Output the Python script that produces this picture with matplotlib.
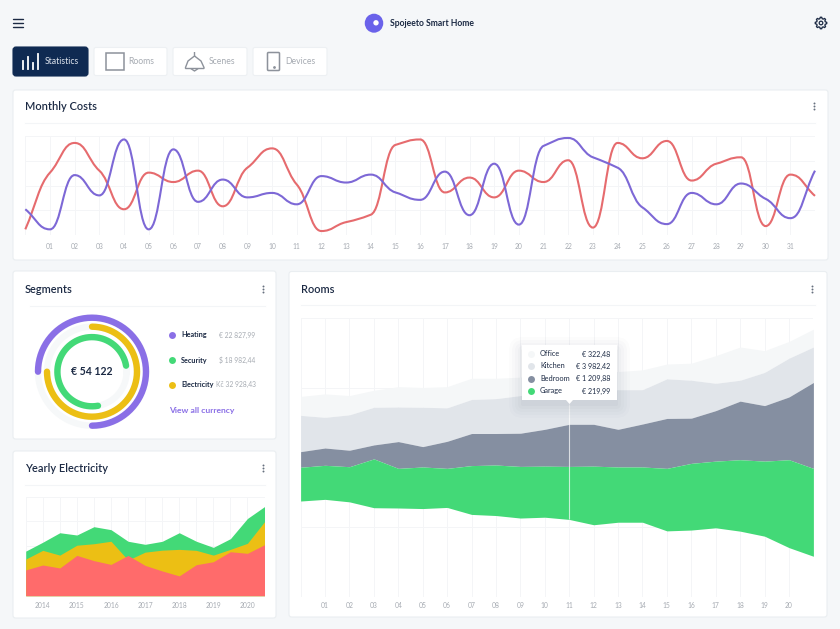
import numpy as np
import matplotlib
matplotlib.use("Agg")
import matplotlib.pyplot as plt
from matplotlib.patches import FancyBboxPatch, Rectangle, Circle, Polygon, PathPatch, Ellipse
from matplotlib.path import Path

plt.rcParams['font.family'] = ['Lato', 'DejaVu Sans']

W, H = 840, 629
days = [f"{i:02d}" for i in range(1, 32)]
heating_costs = [5.7, 63, 93, 65, 26, 63, 53.5, 65, 29, 68, 87.5, 51, 4, 13, 20.5, 91, 96.5, 43, 58, 38, 65, 53.5, 75.5, 7.5, 93, 77.5, 95, 55, 72, 78.5, 9, 61, 39.5]
power_costs = [26, 5.7, 60.5, 40, 96.5, 5.7, 86.5, 33.5, 56, 38, 42.5, 31, 59.5, 53, 61, 43, 35.5, 64, 20, 72, 10.5, 90, 98, 78.5, 68, 28, 11, 42.5, 31, 52, 36.5, 17, 65]

years = ["2014", "2015", "2016", "2017", "2018", "2019", "2020"]
elec_red = [26, 31, 28, 40.7, 35.4, 31.6, 40.7, 30.6, 25, 20, 31.3, 34.3, 44.4, 42.8, 51.5]
elec_yellow = [37, 45.8, 41, 51, 52.5, 55, 36, 44, 46, 46.8, 45.8, 41, 46.8, 52.9, 74.7]
elec_green = [45, 54, 63.6, 61.3, 69.7, 66.7, 55, 51.9, 54.9, 63.6, 55, 48.8, 57.6, 78, 90]

room_ticks = [f"{i:02d}" for i in range(1, 21)]
room_base = [34.4, 35, 34.1, 32, 31.9, 31.7, 32.1, 29.6, 29.2, 28.3, 28.6, 27.8, 25.9, 26.8, 26.8, 23.7, 24, 24.8, 23.6, 21.8, 17.7, 14.6]
room_garage = [46.5, 47.2, 46.7, 49.5, 46.1, 46.6, 46.1, 47.1, 47.3, 46.8, 46.9, 46.8, 46.9, 46.6, 46.6, 46.1, 47.9, 48.7, 49.2, 48.7, 49.2, 46.1]
room_bedroom = [52.1, 53.4, 52.6, 54.5, 55.7, 53.9, 55.8, 58.6, 58.6, 58.7, 60.1, 61.9, 61.9, 60.1, 62, 64, 64.1, 66.8, 70.2, 68.6, 71.7, 76.9]
room_kitchen = [65.1, 64.4, 65.3, 68, 68.1, 68, 67.8, 70.8, 71.1, 72.2, 72.8, 73.7, 74, 74.3, 74.3, 78.2, 77.7, 76.6, 77.7, 80.5, 85.6, 89.6]
room_office = [71.9, 72.8, 72.2, 74.1, 75.4, 75.1, 75.4, 78.4, 78.4, 78.8, 79.3, 80, 80.5, 80.8, 81.4, 83.5, 83.8, 86.5, 89.6, 88.3, 91.6, 96]

segment_names = ["Heating", "Security", "Electricity"]
segment_values = ["€ 22 827,99", "$ 18 982,44", "Kč 32 928,43"]
segment_share = [75, 75, 75]
tooltip_names = ["Office", "Kitchen", "Bedroom", "Garage"]
tooltip_values = ["€ 322,48", "€ 3 982,42", "€ 1 209,88", "€ 219,99"]

BG = "#f5f7f9"; NAVY = "#0f2a52"; INK = "#1c2a44"; GREY = "#a6abb2"; GRID = "#f4f5f7"; EDGE = "#eaeef1"
PURPLE = "#8a6fe6"; LINE_PURPLE = "#7d68d6"; LINE_RED = "#e66b6e"; GREEN = "#43d977"; YELLOW = "#ecbf14"; RED = "#ff6b6b"
SLATE = "#858fa1"; LIGHT = "#e1e5ea"; LIGHTEST = "#f5f7f8"

fig = plt.figure(figsize=(W / 100, H / 100), dpi=100, facecolor=BG)
ui = fig.add_axes([0, 0, 1, 1], zorder=0)
ui.set_xlim(0, W); ui.set_ylim(H, 0); ui.axis("off")


def sub(x0, y0, x1, y1, **kw):
    a = fig.add_axes([x0 / W, 1 - y1 / H, (x1 - x0) / W, (y1 - y0) / H], **kw)
    a.patch.set_alpha(0)
    return a


def card(ax, x0, y0, x1, y1, fc="white", ec=EDGE, r=2.5, z=1):
    ax.add_patch(FancyBboxPatch((x0 + r, y0 + r), x1 - x0 - 2 * r, y1 - y0 - 2 * r,
                                boxstyle=f"round,pad={r},rounding_size={r}", fc=fc, ec=ec, lw=0.8, zorder=z))


def kebab(x, y):
    ui.plot([x, x, x], [y - 3, y, y + 3], ls="", marker="o", ms=1.4, mew=0, color="#66707f", zorder=5)


for x0, y0, x1, y1 in [(13, 90, 828, 260), (13, 271, 276, 439), (13, 451, 276, 618), (289, 271.5, 827, 617)]:
    card(ui, x0, y0, x1, y1)

for (x0, x1, y, t, ty, kx, ky) in [(25, 815, 123, "Monthly Costs", 107, 813.6, 106), (30, 265, 305.6, "Segments", 289.5, 263, 289),
                                   (25, 265, 485, "Yearly Electricity", 468.5, 263, 468), (301, 815, 305, "Rooms", 289.5, 812.4, 289)]:
    ui.plot([x0, x1], [y, y], color="#f3f5f7", lw=0.8, zorder=2)
    ui.text(25 if x0 < 289 else 301, ty, t, fontsize=7.9, color=INK, va="center", ha="left", fontweight="semibold", zorder=5)
    kebab(kx, ky)

# header
for y in (19, 23, 27.3):
    ui.plot([13, 23], [y, y], color=INK, lw=1.0, zorder=5, solid_capstyle="round")
ui.add_patch(Ellipse((374, 23.2), 18.5, 19, fc="#6a62ea", ec="none", zorder=5))
ui.add_patch(Circle((376, 22.8), 2.7, fc="white", ec="none", zorder=6))
ui.text(389.5, 23, "Spojeeto Smart Home", fontsize=6.2, fontweight="bold", color=INK, va="center", zorder=5)
ang = np.linspace(0, 2 * np.pi, 49)
rad = 5.1 + 0.7 * np.sign(np.cos(ang * 8 - 0.1))
ui.add_patch(Polygon(np.c_[821 + rad * np.cos(ang), 23 + rad * np.sin(ang)], closed=True, fc="none", ec=INK, lw=0.9, joinstyle="round", zorder=5))
ui.add_patch(Circle((821, 23), 1.8, fc="none", ec=INK, lw=0.9, zorder=5))

# tabs
card(ui, 13, 47, 88, 76, fc=NAVY, ec=NAVY, r=3)
for x0, x1 in [(94, 167), (173, 247), (253, 327)]:
    card(ui, x0, 47.5, x1, 75.5, fc="white", ec="#edf0f3", r=2)
for x, top in zip((22.7, 28, 33, 38.3), (60.7, 57, 62.7, 54)):
    ui.plot([x, x], [69.3, top], color="white", lw=1.3, zorder=5)
ui.text(45, 61.5, "Statistics", fontsize=6.2, color="#dfe5ee", va="center", zorder=5)
ICON = "#8d929b"
ui.add_patch(Rectangle((106, 53), 17.5, 17, fc="none", ec=ICON, lw=1.1, zorder=5))
ui.text(128.5, 61.5, "Rooms", fontsize=6.2, color=GREY, va="center", zorder=5)
bell = Path([(194.5, 52), (194.5, 56), (188, 61), (185.5, 67.5), (185.5, 68.5), (204, 68.5), (204, 67.5), (201, 61), (194.5, 56)],
            [Path.MOVETO, Path.LINETO, Path.LINETO, Path.LINETO, Path.LINETO, Path.LINETO, Path.LINETO, Path.LINETO, Path.LINETO])
ui.add_patch(PathPatch(bell, fc="none", ec=ICON, lw=1, zorder=5))
ui.plot([191.5, 194.5, 197.5], [69, 71, 69], color=ICON, lw=1, zorder=5)
ui.text(209, 61, "Scenes", fontsize=6.2, color=GREY, va="center", zorder=5)
ui.add_patch(FancyBboxPatch((268, 53), 11, 17, boxstyle="round,pad=0.5,rounding_size=1", fc="none", ec=ICON, lw=1.1, zorder=5))
ui.plot([273.5], [67], marker="o", ms=1, color=ICON, zorder=5)
ui.text(285, 61, "Devices", fontsize=6.2, color=GREY, va="center", zorder=5)


def style(a, xt, labels, pad):
    for s in a.spines.values():
        s.set_visible(False)
    a.set_xticks(xt)
    a.set_xticklabels(labels, fontsize=4.9, color=GREY)
    a.tick_params(axis="x", length=0, pad=pad)
    a.tick_params(axis="y", length=0, labelleft=False)
    a.set_axisbelow(True)
    a.grid(True, color=GRID, lw=0.7)


def smooth(xs, ys):
    xs = np.asarray(xs, float); ys = np.asarray(ys, float)
    sl = np.diff(ys) / np.diff(xs)
    m = np.zeros_like(ys)
    for i in range(1, len(ys) - 1):
        if sl[i - 1] * sl[i] > 0:
            m[i] = 0.7 * 2 * sl[i - 1] * sl[i] / (sl[i - 1] + sl[i])
    m[0], m[-1] = sl[0], sl[-1]
    verts, codes = [(xs[0], ys[0])], [Path.MOVETO]
    for i in range(len(ys) - 1):
        h = (xs[i + 1] - xs[i]) * 0.46
        verts += [(xs[i] + h, ys[i] + m[i] * h), (xs[i + 1] - h, ys[i + 1] - m[i + 1] * h), (xs[i + 1], ys[i + 1])]
        codes += [Path.CURVE4] * 3
    return Path(verts, codes)


# Monthly costs
m = sub(25.3, 136, 815, 235, zorder=3)
mx = np.arange(len(heating_costs))
m.set_xlim(0, len(mx) - 1); m.set_ylim(0, 100)
style(m, np.arange(1, 32), days, 6)
m.set_xticks(mx, minor=True)
m.grid(True, which="minor", axis="x", color=GRID, lw=0.7)
m.tick_params(axis="x", which="minor", length=0)
m.set_yticks([0, 25, 50, 75, 100])
m.add_patch(PathPatch(smooth(mx, heating_costs), fc="none", ec=LINE_RED, lw=1.5, clip_on=False))
m.add_patch(PathPatch(smooth(mx, power_costs), fc="none", ec=LINE_PURPLE, lw=1.5, clip_on=False))

# Segments donut
d = sub(32, 311.7, 152, 431.7, projection="polar", zorder=3)
d.axis("off"); d.set_rlim(0, 60)
starts = [-90, 90, 10]
dirs = [1, -1, 1]
radii = [54, 45, 34.6]
ring_cols = [PURPLE, YELLOW, GREEN]
legend_cols = [PURPLE, GREEN, YELLOW]
full = np.linspace(0, 2 * np.pi, 181)
for r_, st, di, v, c in zip(radii, starts, dirs, segment_share, ring_cols):
    d.plot(full, np.full_like(full, r_), color="#f6f8f9", lw=4.6, clip_on=False)
    th = np.radians(st + di * np.linspace(0, v / 100 * 360, 181))
    d.plot(th, np.full_like(th, r_), color=c, lw=4.6, solid_capstyle="round", clip_on=False)
ui.text(92, 371.5, "€ 54 122", fontsize=7.6, fontweight="bold", color=INK, ha="center", va="center", zorder=5)
for y, n, v, c in zip((335, 360, 384.5), segment_names, segment_values, legend_cols):
    ui.plot([171.7], [y], marker="o", ms=5, color=c, zorder=5, mec="none")
    ui.text(181, y, n, fontsize=5.2, fontweight="bold", color=INK, va="center", zorder=5)
    ui.text(255.5, y, v, fontsize=4.9, color=GREY, va="center", ha="right", zorder=5)
ui.text(169, 410, "View all currency", fontsize=6.1, fontweight="bold", color=PURPLE, va="center", zorder=5)

# Yearly electricity
y_ax = sub(25.7, 496.7, 264.5, 595.7, zorder=3)
yx = np.arange(len(elec_red))
y_ax.set_xlim(0, len(yx) - 1); y_ax.set_ylim(0, 100)
style(y_ax, yx[1::2], years, 4.5)
y_ax.set_xticks(yx, minor=True)
y_ax.grid(True, which="minor", axis="x", color=GRID, lw=0.7)
y_ax.tick_params(axis="x", which="minor", length=0)
y_ax.set_yticks([0, 25, 50, 75, 100])
y_ax.fill_between(yx, elec_green, color=GREEN, lw=0)
y_ax.fill_between(yx, elec_yellow, color=YELLOW, lw=0)
y_ax.fill_between(yx, elec_red, color=RED, lw=0)

# Rooms
r_ax = sub(300.6, 318, 813.4, 597, zorder=3)
rx = np.arange(len(room_base))
r_ax.set_xlim(0, len(rx) - 1); r_ax.set_ylim(0, 100)
style(r_ax, rx[1:-1], room_ticks, 3.5)
r_ax.set_xticks(rx, minor=True)
r_ax.grid(True, which="minor", axis="x", color=GRID, lw=0.7)
r_ax.tick_params(axis="x", which="minor", length=0)
r_ax.set_yticks([0, 25, 50, 75, 100])
for lo, hi, c in [(room_kitchen, room_office, LIGHTEST), (room_bedroom, room_kitchen, LIGHT),
                  (room_garage, room_bedroom, SLATE), (room_base, room_garage, GREEN)]:
    r_ax.fill_between(rx, lo, hi, color=c, lw=0)
r_ax.vlines(11, room_base[11], 100 * (597 - 404) / 279, color="white", lw=0.8, alpha=0.7)

# Tooltip overlay
tip = fig.add_axes([0, 0, 1, 1], zorder=6)
tip.set_xlim(0, W); tip.set_ylim(H, 0); tip.axis("off"); tip.patch.set_alpha(0)
for g, al in zip((14, 11, 8, 5, 2), (0.012, 0.014, 0.016, 0.02, 0.025)):
    tip.add_patch(FancyBboxPatch((522 - g + 1, 345 - g + 6), 95 + 2 * g - 2, 55 + 2 * g - 2, boxstyle=f"round,pad=0,rounding_size={g}",
                                 fc="#1c2a44", ec="none", alpha=al))
tip.add_patch(Rectangle((521.7, 345), 95, 55, fc="white", ec="none"))
tip.add_patch(Polygon([(566, 400), (573, 400), (569.5, 404)], closed=True, fc="white", ec="none"))
for y, n, v, c in zip((354, 366, 378.5, 391), tooltip_names, tooltip_values, (LIGHTEST, LIGHT, SLATE, GREEN)):
    tip.plot([531], [y], marker="o", ms=5, color=c, mec="none")
    tip.text(540, y, n, fontsize=5.3, color=INK, va="center")
    tip.text(610.5, y, v, fontsize=5.1, color=INK, va="center", ha="right")

fig.savefig("out.png", dpi=100, facecolor=BG)
